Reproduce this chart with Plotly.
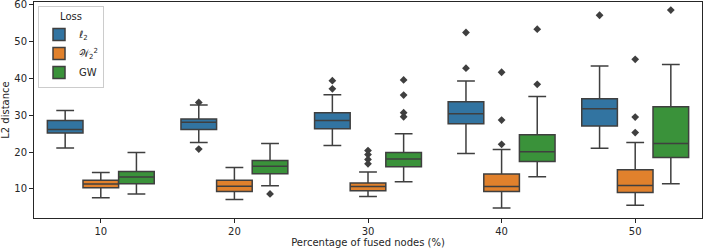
import plotly.graph_objects as go

categories = ["10", "20", "30", "40", "50"]
losses = ["<i>\u2113</i><sub>2</sub>", "\U0001D4B2<sub>2</sub><sup>2</sup>", "GW"]
colors = ["#3274a1", "#e1812c", "#3a923a"]

l2_q1 = [25.2, 26.1, 26.3, 27.7, 27.1]
l2_med = [26.1, 28.1, 28.6, 30.4, 31.8]
l2_q3 = [28.6, 29.0, 30.7, 33.7, 34.5]
l2_low = [21.1, 22.6, 21.8, 19.6, 21.0]
l2_high = [31.3, 32.8, 35.6, 39.3, 43.4]
l2_out = [[], [33.5, 20.8], [39.4, 37.2], [52.5, 42.8], [57.2]]

w2_q1 = [10.3, 9.3, 9.5, 9.3, 9.0]
w2_med = [11.3, 10.7, 10.6, 10.6, 10.9]
w2_q3 = [12.3, 12.3, 11.6, 14.0, 15.2]
w2_low = [7.6, 7.1, 7.9, 4.8, 5.5]
w2_high = [14.4, 15.8, 14.6, 20.7, 22.6]
w2_out = [[], [], [20.4, 19.3, 18.0, 16.8], [41.7, 28.7, 22.1], [45.2, 29.5, 25.3]]

gw_q1 = [11.4, 14.1, 16.0, 17.4, 18.5]
gw_med = [13.2, 16.1, 18.1, 20.1, 22.3]
gw_q3 = [14.7, 17.7, 19.9, 24.7, 32.3]
gw_low = [8.6, 10.8, 11.9, 13.3, 11.4]
gw_high = [19.9, 22.3, 25.0, 35.1, 43.8]
gw_out = [[], [8.6], [39.6, 35.5, 30.7, 29.6], [53.4, 38.4], [58.6]]

stats = [
    (l2_q1, l2_med, l2_q3, l2_low, l2_high, l2_out),
    (w2_q1, w2_med, w2_q3, w2_low, w2_high, w2_out),
    (gw_q1, gw_med, gw_q3, gw_low, gw_high, gw_out),
]

LINE = "#3f3f3f"
TXT = "#262626"
bw = 0.8 / 3
fig = go.Figure()
for h, (name, col, (q1, med, q3, lo, hi, out)) in enumerate(zip(losses, colors, stats)):
    off = (h - 1) * bw
    xs = [i + off for i in range(len(categories))]
    fig.add_trace(go.Box(
        x=xs, q1=q1, median=med, q3=q3, lowerfence=lo, upperfence=hi,
        name=name, width=bw, whiskerwidth=0.5, fillcolor=col,
        line=dict(color=LINE, width=1.5), boxpoints=False, hoverinfo="skip",
    ))
    ox, oy = [], []
    for i, vals in enumerate(out):
        for v in vals:
            ox.append(i + off)
            oy.append(v)
    fig.add_trace(go.Scatter(
        x=ox, y=oy, mode="markers", showlegend=False, hoverinfo="skip",
        marker=dict(symbol="diamond", size=6, color=LINE),
    ))

fig.update_layout(
    template="none",
    width=703, height=249,
    margin=dict(l=34, r=1, t=2, b=31, autoexpand=False),
    plot_bgcolor="white", paper_bgcolor="white",
    font=dict(family="DejaVu Sans", size=10, color=TXT),
    showlegend=True,
    legend=dict(
        x=0.006, y=0.982, xanchor="left", yanchor="top",
        bgcolor="white", bordercolor="#cccccc", borderwidth=1,
        title=dict(text="Loss", side="top center", font=dict(size=10, color=TXT)),
        font=dict(size=10, color=TXT), tracegroupgap=2,
    ),
)
fig.update_xaxes(
    automargin=False,
    range=[-0.5, 4.5], tickvals=list(range(len(categories))), ticktext=categories,
    showgrid=False, zeroline=False, showline=True, linecolor=TXT, linewidth=1,
    mirror=True, ticks="outside", ticklen=4, tickcolor=TXT, tickfont=dict(color=TXT, size=10),
    title=dict(text="Percentage of fused nodes (%)", standoff=2, font=dict(color=TXT, size=10)),
)
fig.update_yaxes(
    automargin=False, ticklabeloverflow="allow",
    range=[2.06, 60.8], tickvals=[10, 20, 30, 40, 50, 60],
    showgrid=False, zeroline=False, showline=True, linecolor=TXT, linewidth=1,
    mirror=True, ticks="outside", ticklen=4, tickcolor=TXT, tickfont=dict(color=TXT, size=10),
    title=dict(text="L2 distance", standoff=2, font=dict(color=TXT, size=10)),
)
fig.write_html("out.html", config={"displayModeBar": False},
               post_script="document.body.style.margin='0';")
